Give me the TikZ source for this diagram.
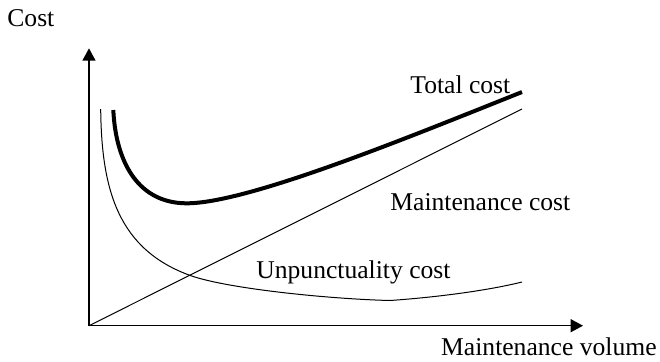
\documentclass[tikz,border=0pt]{standalone}
\usepackage{fontspec}
\setmainfont{Liberation Serif}
\usetikzlibrary{arrows.meta}
\begin{document}
\begin{tikzpicture}[x=0.5pt,y=-0.5pt,
  lbl/.style={inner sep=0pt,font=\fontsize{12.8}{15}\selectfont},
  axis/.style={line width=0.75pt,-{Triangle[length=6.2pt,width=6.5pt]}},
  thincurve/.style={line width=0.5pt},
  thickcurve/.style={line width=2pt}]
\useasboundingbox (0,0) rectangle (660,361);
\coordinate (O) at (89,325.7);
\coordinate (Ytop) at (89,48.3);
\coordinate (Xend) at (583,325.7);
\draw[axis] (O) -- (Ytop);
\draw[axis] (O) -- (Xend);
% maintenance cost
\coordinate (Mend) at (522,109);
\draw[thincurve] (O) -- (Mend);
% unpunctuality cost
\coordinate (U0) at (100.7,109);
\coordinate (U1) at (191.7,276);
\coordinate (U2) at (390,300.5);
\coordinate (U3) at (522,282);
\draw[thincurve] (U0) .. controls (101.5,190) and (118,250) .. (U1)
  .. controls (230,289) and (330,299) .. (U2)
  .. controls (440,297) and (490,290) .. (U3);
% total cost
\coordinate (T0) at (113.3,110);
\coordinate (T1) at (186.7,203.3);
\coordinate (T2) at (522,92);
\draw[thickcurve] (T0) .. controls (116,165) and (140,203.3) .. (T1)
  .. controls (246.7,203.3) and (402,140) .. (T2);
% labels
\node[lbl,anchor=base west] (cost) at (7,26) {Cost};
\node[lbl,anchor=base west] (total) at (410,93.3) {Total cost};
\node[lbl,anchor=base west] (maint) at (390,210) {Maintenance cost};
\node[lbl,anchor=base west] (unp) at (256,278) {Unpunctuality cost};
\node[lbl,anchor=base east] (vol) at (657,355) {Maintenance volume};
\end{tikzpicture}
\end{document}
